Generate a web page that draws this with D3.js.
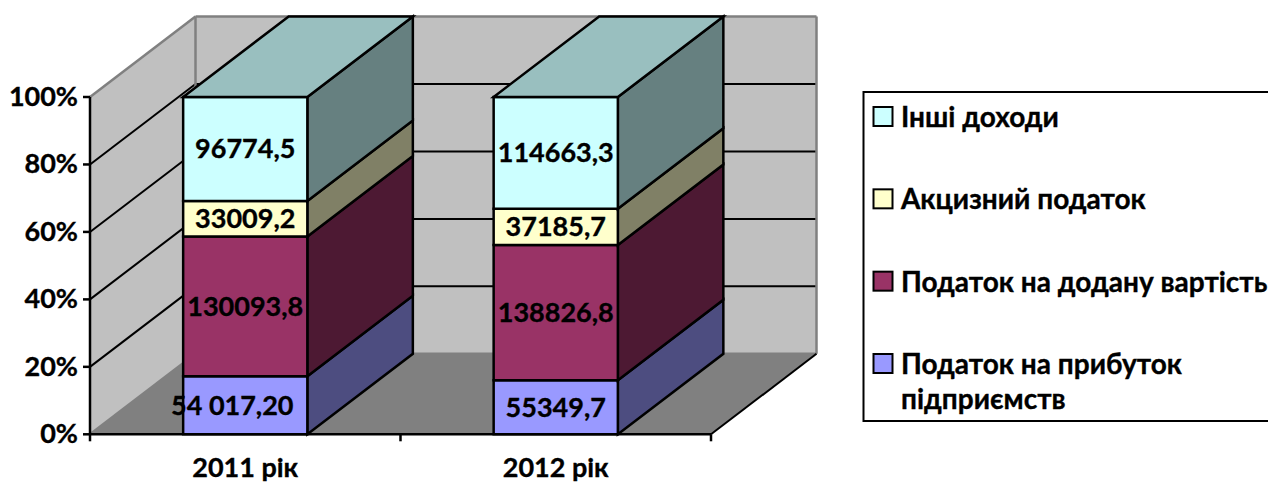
<!DOCTYPE html>
<html><head><meta charset="utf-8">
<script src="https://cdnjs.cloudflare.com/ajax/libs/d3/7.8.5/d3.min.js"></script>
<style>html,body{margin:0;padding:0;background:#fff}svg{display:block}text{font-family:Lato,"Noto Sans",sans-serif;font-weight:700;fill:#000;stroke:#000;stroke-width:.35px}</style>
</head><body><svg id="c" width="1268" height="482"></svg>
<script>
const categories = ["2011 рік","2012 рік"];
const seriesNames = ["Податок на прибуток підприємств","Податок на додану вартість","Акцизний податок","Інші доходи"];
const profit = [54017.2,55349.7];
const vat = [130093.8,138826.8];
const excise = [33009.2,37185.7];
const other = [96774.5,114663.3];
const labelText = [["54 017,20","130093,8","33009,2","96774,5"],["55349,7","138826,8","37185,7","114663,3"]];
const fills = ["#9999FF","#993366","#FFFFCC","#CCFFFF"];
const sides = ["#4D4D80","#4D1933","#808066","#668080"];
const topFill = "#99BFBF";
const yTicks = [0,.2,.4,.6,.8,1];
const legendLines = [["Інші доходи"],["Акцизний податок"],["Податок на додану вартість"],["Податок на прибуток","підприємств"]];
const legendIdx = [3,2,1,0];

const FS=27, FS_LEG=28;
const dx=105.5, dy=-80.5;
const x0=90,x1=711,yB=434.3,yT=97;
const svg=d3.select("#c");
const y=d3.scaleLinear().domain([0,1]).range([yB,yT]);
const x=d3.scaleBand().domain(categories).range([x0,x1]).paddingInner(.6).paddingOuter(.3);
const poly=(pts,fill,stroke,w)=>svg.append("polygon").attr("points",pts.map(p=>p.join(",")).join(" ")).attr("fill",fill).attr("stroke",stroke||"none").attr("stroke-width",w||0).attr("stroke-linejoin","miter");
const line=(a,b,c,w)=>svg.append("line").attr("x1",a[0]).attr("y1",a[1]).attr("x2",b[0]).attr("y2",b[1]).attr("stroke",c).attr("stroke-width",w);

// walls and floor
poly([[x0,yB],[x0,yT],[x0+dx,yT+dy],[x0+dx,yB+dy]],"#C0C0C0");
poly([[x0+dx,yT+dy],[x1+dx,yT+dy],[x1+dx,yB+dy],[x0+dx,yB+dy]],"#C0C0C0");
poly([[x0,yB],[x0+dx,yB+dy],[x1+dx,yB+dy],[x1,yB]],"#808080");
// gridlines
yTicks.forEach(t=>{
  const yy=y(t), edge=(t===0||t===1), c=edge?"#808080":"#000", w=edge?2.5:2;
  line([x0,yy],[x0+dx,yy+dy],c,w);
  line([x0+dx,yy+dy],[x1+dx,yy+dy],c,w);
});
line([x0+dx,yT+dy],[x0+dx,yB+dy],"#808080",2.5);
line([x1+dx,yT+dy],[x1+dx,yB+dy],"#808080",2.5);
line([x1,yB],[x1+dx,yB+dy],"#000",2);

// bars
const stack=d3.stack().keys([0,1,2,3]).value((d,k)=>d[k]).offset(d3.stackOffsetExpand);
const rows=categories.map((c,i)=>[profit[i],vat[i],excise[i],other[i]]);
const layers=stack(rows);
const labelDx=[[-13,0,0,0],[0,0,0,0]];
categories.forEach((c,i)=>{
  const l=x(c), r=l+x.bandwidth();
  layers.forEach((lay,k)=>{
    const a=y(lay[i][0]), b=y(lay[i][1]);
    poly([[r,a],[r+dx,a+dy],[r+dx,b+dy],[r,b]],sides[k],"#000",2.5);
    poly([[l,a],[r,a],[r,b],[l,b]],fills[k],"#000",2.5);
  });
  const t=y(1);
  poly([[l,t],[r,t],[r+dx,t+dy],[l+dx,t+dy]],topFill,"#000",2.5);
});
categories.forEach((c,i)=>{
  const l=x(c), bw=x.bandwidth();
  layers.forEach((lay,k)=>{
    const m=(y(lay[i][0])+y(lay[i][1]))/2;
    svg.append("text").attr("x",l+bw/2+labelDx[i][k]).attr("y",m+9.5).attr("text-anchor","middle").attr("font-size",FS).text(labelText[i][k]);
  });
});

// axes
line([x0,yT],[x0,yB],"#000",2.5);
line([x0-1,yB],[x1,yB],"#000",2.5);
yTicks.forEach(t=>{
  line([x0-7,y(t)],[x0,y(t)],"#000",2.5);
  svg.append("text").attr("x",78).attr("y",y(t)+9).attr("text-anchor","end").attr("font-size",FS).text(d3.format(".0%")(t));
});
[0,1,2].forEach(i=>{
  const px=x0+i*x.step();
  line([px,yB],[px,yB+7],"#000",2.5);
});
categories.forEach(c=>svg.append("text").attr("x",x(c)+x.bandwidth()/2).attr("y",477).attr("text-anchor","middle").attr("font-size",FS).text(c));

// legend
svg.append("rect").attr("x",863.5).attr("y",92).attr("width",420).attr("height",329).attr("fill","#fff").attr("stroke","#000").attr("stroke-width",2);
const legY=d3.scalePoint().domain(legendIdx).range([127,374]);
legendIdx.forEach((k,i)=>{
  const by=legY(k);
  svg.append("rect").attr("x",873.5).attr("y",by-20).attr("width",19).attr("height",19).attr("fill",fills[k]).attr("stroke","#000").attr("stroke-width",2);
  legendLines[i].forEach((s,j)=>svg.append("text").attr("x",901).attr("y",by+j*35).attr("font-size",FS_LEG).text(s));
});
</script></body></html>
